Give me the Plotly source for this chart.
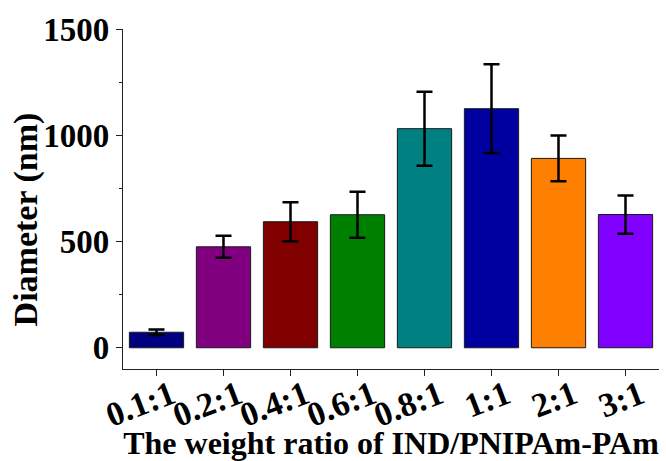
import plotly.graph_objects as go

# Particle diameter versus IND/PNIPAm-PAm weight ratio
ratios = ["0.1:1", "0.2:1", "0.4:1", "0.6:1", "0.8:1", "1:1", "2:1", "3:1"]
diameter_nm = [73, 475, 593, 626, 1031, 1125, 891, 627]
diameter_sd = [13, 52, 92, 108, 174, 209, 108, 90]
bar_colors = ["#000080", "#800080", "#800000", "#008000",
              "#008080", "#0000A0", "#FF8000", "#8000FF"]

y_ticks = [0, 500, 1000, 1500]

FONT = "Liberation Serif, Times New Roman, serif"

fig = go.Figure(
    go.Bar(
        x=ratios,
        y=diameter_nm,
        width=0.81,
        marker=dict(color=bar_colors, line=dict(color="#1a1a1a", width=1)),
        error_y=dict(type="data", array=diameter_sd, visible=True,
                     color="black", thickness=2.5, width=8),
    )
)

fig.update_layout(
    width=666, height=461,
    margin=dict(l=123, r=7, t=29, b=92),
    paper_bgcolor="white", plot_bgcolor="white",
    showlegend=False,
    font=dict(family=FONT, color="black"),
    xaxis=dict(
        range=[-0.5, 7.5],
        automargin=False,
        showline=True, linecolor="#222", linewidth=1.3,
        ticks="outside", ticklen=6, tickwidth=1.3, tickcolor="#222",
        tickangle=-21,
        ticklabelshift=15,
        ticklabelstandoff=-14,
        tickfont=dict(family=FONT, size=34, color="black", weight="bold"),
        title=dict(text="<b>The weight ratio of IND/PNIPAm-PAm</b>",
                   font=dict(family=FONT, size=32, color="black"),
                   standoff=2),
        showgrid=False, zeroline=False,
    ),
    yaxis=dict(
        range=[-100, 1500],
        automargin=False,
        tickvals=y_ticks,
        showline=True, linecolor="#222", linewidth=1.3,
        ticks="outside", ticklen=6, tickwidth=1.3, tickcolor="#222",
        minor=dict(dtick=250, ticks="outside", ticklen=3, tickwidth=1.3,
                   tickcolor="#222", tick0=0),
        tickfont=dict(family=FONT, size=33, color="black", weight="bold"),
        showgrid=False, zeroline=False,
    ),
    annotations=[
        dict(text="<b>Diameter (nm)</b>", textangle=-90,
             xref="paper", yref="paper",
             x=-0.181, xanchor="center",
             y=0.44, yanchor="middle",
             showarrow=False,
             font=dict(family=FONT, size=34, color="black")),
    ],
)

fig.write_html("out.html")
